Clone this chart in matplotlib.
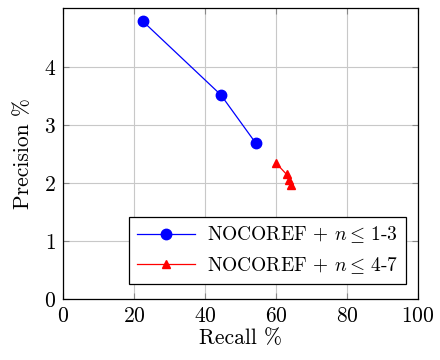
import matplotlib
matplotlib.use('Agg')
import matplotlib.pyplot as plt

# data
recall_a = [22.5, 44.5, 54.3]
prec_a = [4.79, 3.52, 2.69]
recall_b = [60.1, 63.0, 63.6, 64.2]
prec_b = [2.34, 2.15, 2.05, 1.97]

plt.rcParams['font.family'] = 'serif'
plt.rcParams['font.serif'] = ['cmr10', 'DejaVu Serif']
plt.rcParams['mathtext.fontset'] = 'cm'
plt.rcParams['axes.formatter.use_mathtext'] = True

fig = plt.figure(figsize=(4.4, 3.6), dpi=100)
ax = fig.add_axes([0.143, 0.169, 0.807, 0.809])

ax.plot(recall_a, prec_a, '-o', color='blue', lw=0.9, ms=7.5,
        label=r'NOCOREF + $n\leq\,$1-3')
ax.plot(recall_b, prec_b, '-^', color='red', lw=0.9, ms=6,
        label=r'NOCOREF + $n\leq\,$4-7')

ax.set_xlim(0, 100)
ax.set_ylim(0, 5.02)
ax.set_xticks([0, 20, 40, 60, 80, 100])
ax.set_yticks([0, 1, 2, 3, 4])
ax.grid(color='#c8c8c8', lw=0.8)
ax.set_axisbelow(True)
ax.tick_params(direction='in', top=True, right=True, length=4, color='#888888',
               labelsize=15.5, pad=5)
for s in ax.spines.values():
    s.set_linewidth(0.9)
ax.set_xlabel('Recall %', fontsize=15.5, labelpad=2)
ax.set_ylabel('Precision %', fontsize=15.5, labelpad=8)

leg = ax.legend(loc='lower right', fontsize=14, fancybox=False, edgecolor='black',
                framealpha=1, handlelength=3.0, borderpad=0.4, labelspacing=0.5,
                handletextpad=0.6, bbox_to_anchor=(0.993, 0.02))
leg.get_frame().set_linewidth(0.9)

fig.savefig('out.png', dpi=100)
